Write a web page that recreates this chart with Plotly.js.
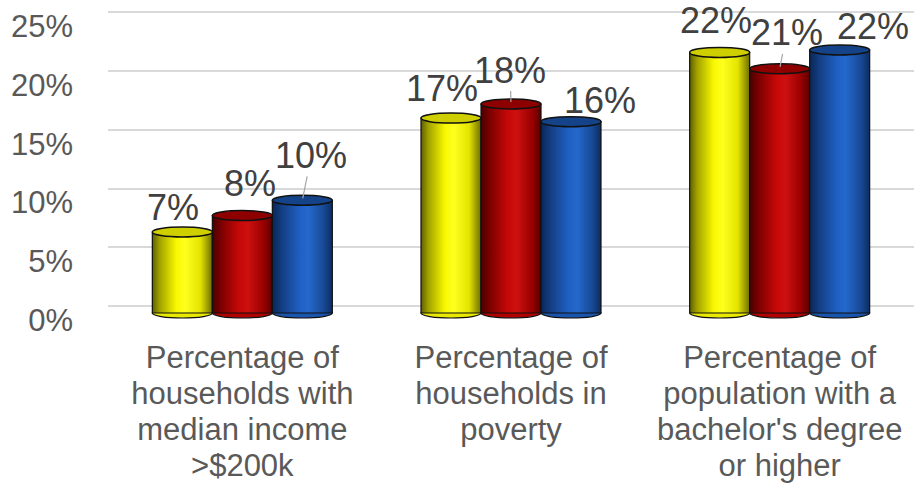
<!DOCTYPE html>
<html>
<head>
<meta charset="utf-8">
<script src="https://cdn.plot.ly/plotly-3.0.1.min.js"></script>
<style>
  html, body { margin: 0; padding: 0; background: #ffffff; }
  #chart { width: 914px; height: 487px; }
</style>
</head>
<body>
<div id="chart"></div>
<script>
// ---- data ----
const categories = [
  "Percentage of<br>households with<br>median income<br>>$200k",
  "Percentage of<br>households in<br>poverty",
  "Percentage of<br>population with a<br>bachelor's degree<br>or higher"
];
const categoryIndex = [0, 1, 2];
const seriesNames = ["Series 1", "Series 2", "Series 3"];
const series1 = [0.069, 0.166, 0.222];
const series2 = [0.083, 0.178, 0.208];
const series3 = [0.096, 0.163, 0.224];
const yTickVals = [0, 0.05, 0.10, 0.15, 0.20, 0.25];
const yTickText = ["0%", "5%", "10%", "15%", "20%", "25%"];

// ---- style ----
const baseColors = ["#E8E800", "#B00000", "#1A55AD"];
const topColors = ["#CFCF00", "#8E0000", "#14438A"];
const gradStops = [
  [[0, "#5e5e00"], [0.12, "#a0a000"], [0.4, "#f8f800"], [0.55, "#ffff20"], [0.8, "#e4e400"], [1, "#6e6e00"]],
  [[0, "#4a0000"], [0.15, "#7c0000"], [0.45, "#c80808"], [0.6, "#cc1010"], [0.85, "#9a0000"], [1, "#580000"]],
  [[0, "#0a2656"], [0.15, "#133d80"], [0.45, "#1f5fc2"], [0.6, "#2468cc"], [0.85, "#184a96"], [1, "#0c2c60"]]
];
// label placement (pixel offsets of label centre from bar-top centre), per series x category
const labelDx = [[-9, -9, -4], [8, -1, 7], [9, 29, 33]];
const labelDy = [[-25, -30, -32], [-32, -34, -36], [-45, -21, -24]];
const labelLeader = [[false, false, false], [false, true, true], [true, false, false]];
const xLabelLineHeight = 1.16; // em
const bargap = 0.33;
const barW = (1 - bargap) / 3;
const allSeries = [series1, series2, series3];
const fontFam = "'Liberation Sans', Arial, sans-serif";

const traces = allSeries.map((vals, i) => ({
  type: "bar",
  name: seriesNames[i],
  x: categoryIndex,
  y: vals,
  marker: { color: baseColors[i], line: { color: "#111111", width: 1.2 } },
  hoverinfo: "skip",
  yaxis: "y"
}));

// ellipse caps and data labels, positioned from the data through the axes
const shapes = [];
const annotations = [];
allSeries.forEach((vals, i) => {
  vals.forEach((v, j) => {
    const cx = categoryIndex[j] + (i - 1) * barW;
    shapes.push({
      type: "circle", xref: "x", yref: "y", layer: "above",
      x0: cx - barW / 2, x1: cx + barW / 2,
      ysizemode: "pixel", yanchor: v, y0: -5, y1: 5,
      fillcolor: topColors[i], line: { color: "#111111", width: 1.5 }
    });
    shapes.push({
      type: "circle", xref: "x", yref: "y", layer: "below",
      x0: cx - barW / 2, x1: cx + barW / 2,
      ysizemode: "pixel", yanchor: 0, y0: -5, y1: 5,
      fillcolor: baseColors[i], line: { color: "#111111", width: 1.2 }
    });
    const txt = Math.round(v * 100) + "%";
    const font = { family: fontFam, size: 36, color: "#404040" };
    if (labelLeader[i][j]) {
      annotations.push({
        xref: "x", yref: "y", x: cx, y: v, text: txt, font: font,
        showarrow: true, arrowhead: 0, arrowwidth: 1.2, arrowcolor: "#A6A6A6",
        ax: labelDx[i][j], ay: labelDy[i][j], standoff: 2, borderpad: 0
      });
    } else {
      annotations.push({
        xref: "x", yref: "y", x: cx, y: v, text: txt, font: font,
        showarrow: false, xshift: labelDx[i][j], yshift: -labelDy[i][j], borderpad: 0
      });
    }
  });
});

// invisible trace to activate the gridline axis
traces.push({
  type: "scatter", x: [0], y: [0], yaxis: "y2",
  mode: "markers", marker: { opacity: 0 }, hoverinfo: "skip", showlegend: false
});

const layout = {
  width: 914, height: 487,
  margin: { l: 108, r: 0, t: 10, b: 168 },
  paper_bgcolor: "#ffffff", plot_bgcolor: "rgba(0,0,0,0)",
  showlegend: false,
  barmode: "group", bargap: bargap, bargroupgap: 0,
  font: { family: fontFam, color: "#595959" },
  xaxis: {
    range: [-0.5, 2.5],
    tickvals: categoryIndex, ticktext: categories,
    showgrid: false, zeroline: false, showline: false, ticks: "",
    tickfont: { family: fontFam, size: 31, color: "#595959" },
    ticklabelstandoff: 17, automargin: false
  },
  yaxis: {
    range: [-0.00511, 0.2581],
    showgrid: false, zeroline: false, showline: false, showticklabels: false, ticks: ""
  },
  yaxis2: {
    overlaying: "y", side: "left",
    range: [-0.01107, 0.25196],
    tickvals: yTickVals, ticktext: yTickText,
    showgrid: true, gridcolor: "#D9D9D9", gridwidth: 2,
    zeroline: false, showline: false, ticks: "",
    tickfont: { family: fontFam, size: 31, color: "#595959" },
    ticklabelstandoff: 34, ticklabelshift: 14, automargin: false
  },
  shapes: shapes,
  annotations: annotations
};

Plotly.newPlot("chart", traces, layout, { staticPlot: true, displayModeBar: false }).then(() => {
  const svg = document.querySelector("#chart .main-svg");
  const ns = "http://www.w3.org/2000/svg";
  let defs = svg.querySelector("defs");
  if (!defs) { defs = document.createElementNS(ns, "defs"); svg.insertBefore(defs, svg.firstChild); }
  gradStops.forEach((stops, i) => {
    const g = document.createElementNS(ns, "linearGradient");
    g.setAttribute("id", "cylgrad" + i);
    g.setAttribute("x1", "0"); g.setAttribute("x2", "1");
    g.setAttribute("y1", "0"); g.setAttribute("y2", "0");
    stops.forEach(([off, col]) => {
      const s = document.createElementNS(ns, "stop");
      s.setAttribute("offset", off);
      s.setAttribute("stop-color", col);
      g.appendChild(s);
    });
    defs.appendChild(g);
  });
  const barTraces = document.querySelectorAll("#chart .trace.bars");
  barTraces.forEach((t, i) => {
    t.querySelectorAll(".point path").forEach(p => { p.style.fill = "url(#cylgrad" + i + ")"; });
  });
  // tighter line spacing for the multi-line category labels
  document.querySelectorAll("#chart .xtick text").forEach(t => {
    t.querySelectorAll("tspan.line").forEach((l, n) => {
      l.setAttribute("dy", (n * xLabelLineHeight) + "em");
    });
  });
});
</script>
</body>
</html>
